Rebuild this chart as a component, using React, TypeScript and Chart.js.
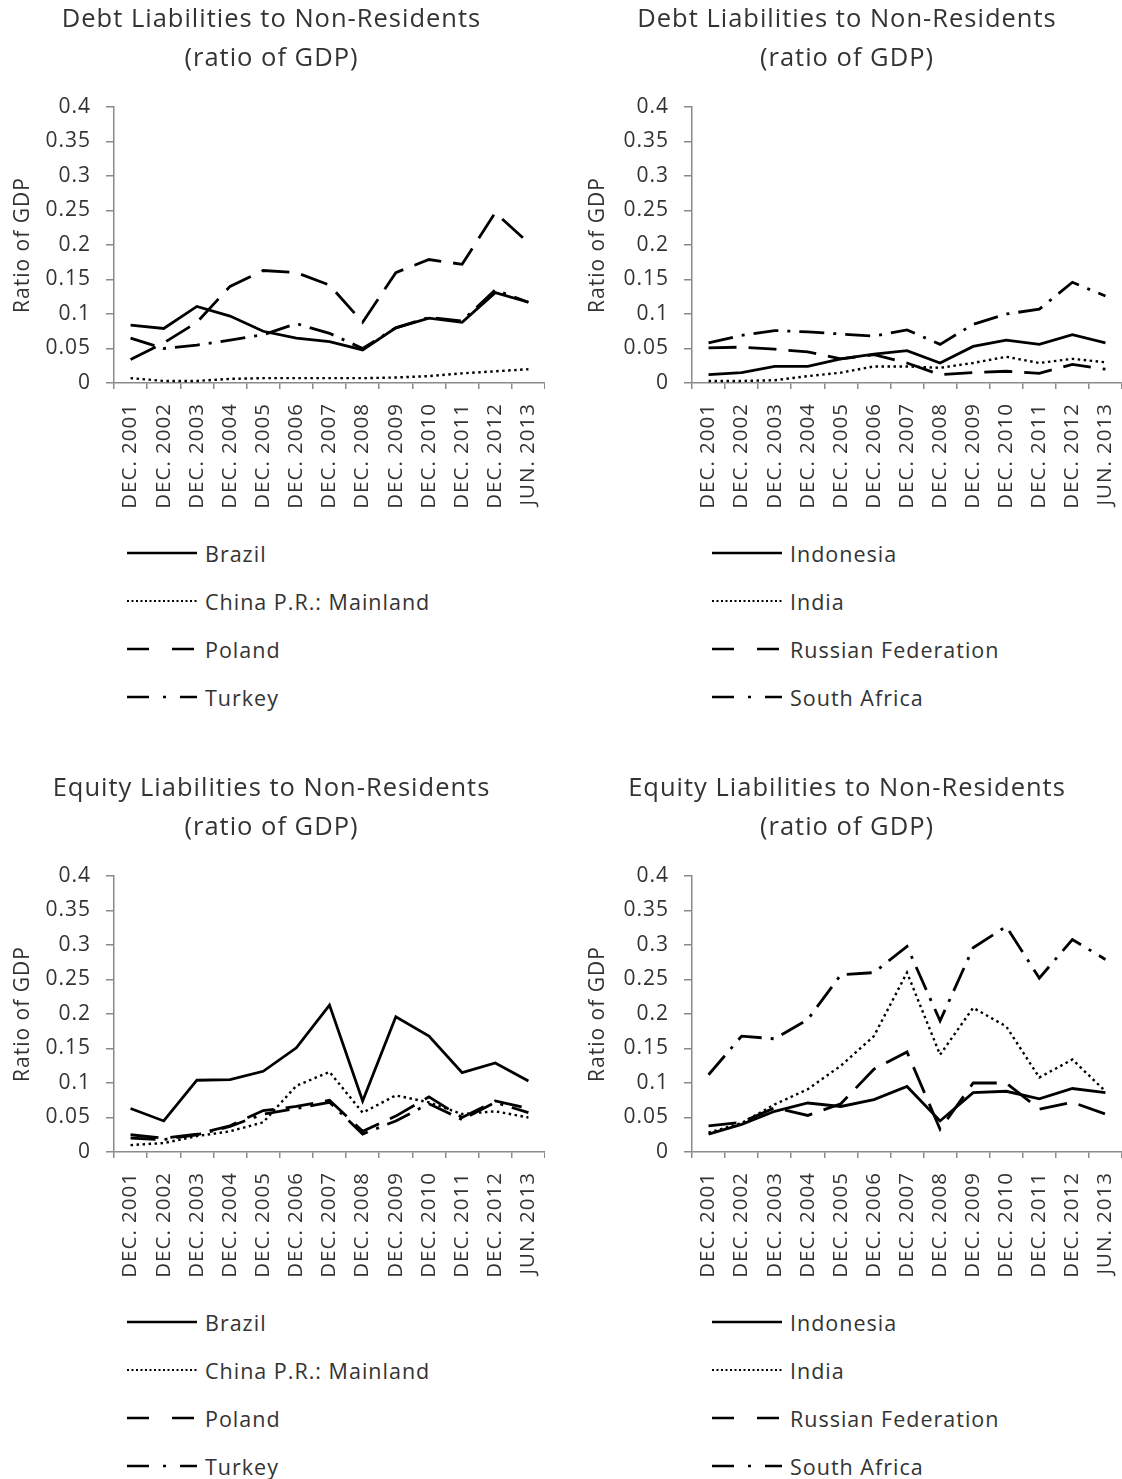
import React, { useEffect, useRef } from 'react';
import { Chart, registerables } from 'chart.js';

Chart.register(...registerables);

const categories = [
  'DEC. 2001', 'DEC. 2002', 'DEC. 2003', 'DEC. 2004', 'DEC. 2005', 'DEC. 2006', 'DEC. 2007',
  'DEC. 2008', 'DEC. 2009', 'DEC. 2010', 'DEC. 2011', 'DEC. 2012', 'JUN. 2013',
];

const leftCountries = ['Brazil', 'China P.R.: Mainland', 'Poland', 'Turkey'];
const rightCountries = ['Indonesia', 'India', 'Russian Federation', 'South Africa'];

const debtTitle = ['Debt Liabilities to Non-Residents', '(ratio of GDP)'];
const equityTitle = ['Equity Liabilities to Non-Residents', '(ratio of GDP)'];
const yAxisTitle = 'Ratio of GDP';

// Debt liabilities (ratio of GDP)
const debtBrazil = [0.084, 0.079, 0.111, 0.097, 0.075, 0.065, 0.060, 0.048, 0.080, 0.094, 0.088, 0.131, 0.117];
const debtChina = [0.007, 0.003, 0.003, 0.006, 0.007, 0.007, 0.007, 0.007, 0.008, 0.010, 0.014, 0.017, 0.020];
const debtPoland = [0.034, 0.058, 0.088, 0.140, 0.163, 0.160, 0.142, 0.088, 0.160, 0.179, 0.172, 0.247, 0.203];
const debtTurkey = [0.065, 0.050, 0.055, 0.062, 0.070, 0.086, 0.072, 0.050, 0.080, 0.095, 0.090, 0.135, 0.117];

const debtIndonesia = [0.012, 0.015, 0.024, 0.024, 0.035, 0.042, 0.047, 0.029, 0.053, 0.062, 0.056, 0.070, 0.058];
const debtIndia = [0.003, 0.003, 0.004, 0.010, 0.015, 0.024, 0.024, 0.022, 0.029, 0.038, 0.029, 0.035, 0.030];
const debtRussia = [0.051, 0.052, 0.049, 0.045, 0.035, 0.041, 0.029, 0.012, 0.015, 0.017, 0.014, 0.027, 0.020];
const debtSouthAfrica = [0.058, 0.069, 0.076, 0.074, 0.071, 0.068, 0.077, 0.056, 0.085, 0.100, 0.107, 0.146, 0.126];

// Equity liabilities (ratio of GDP)
const equityBrazil = [0.063, 0.045, 0.104, 0.105, 0.117, 0.151, 0.213, 0.074, 0.196, 0.168, 0.115, 0.129, 0.103];
const equityChina = [0.010, 0.013, 0.023, 0.030, 0.043, 0.096, 0.116, 0.057, 0.082, 0.072, 0.055, 0.059, 0.050];
const equityPoland = [0.025, 0.020, 0.026, 0.038, 0.060, 0.066, 0.075, 0.030, 0.052, 0.080, 0.050, 0.074, 0.063];
const equityTurkey = [0.020, 0.018, 0.025, 0.037, 0.055, 0.063, 0.072, 0.026, 0.045, 0.070, 0.047, 0.072, 0.057];

const equityIndonesia = [0.026, 0.040, 0.059, 0.071, 0.066, 0.076, 0.095, 0.045, 0.086, 0.088, 0.077, 0.092, 0.086];
const equityIndia = [0.028, 0.042, 0.069, 0.091, 0.125, 0.168, 0.260, 0.141, 0.209, 0.182, 0.108, 0.134, 0.088];
const equityRussia = [0.038, 0.043, 0.064, 0.053, 0.070, 0.120, 0.145, 0.033, 0.100, 0.100, 0.062, 0.072, 0.055];
const equitySouthAfrica = [0.112, 0.168, 0.164, 0.192, 0.257, 0.260, 0.298, 0.190, 0.296, 0.327, 0.252, 0.308, 0.279];

const FONT = '"Open Sans", Lato, sans-serif';
const TEXT = '#333333';
const AXIS = '#8a8a8a';

const lineDashes: number[][] = [[], [2.5, 3.5], [28, 12], [25, 9, 3, 9]];
const legendDashes: string[] = ['', '2 2.5', '22 23', '22 14 3 14'];
const legendWidths: number[] = [2.6, 2, 2.6, 2.6];

const letterSpacingPlugin = {
  id: 'letterSpacing',
  beforeDraw(chart: any) {
    try {
      (chart.ctx as any).letterSpacing = '1px';
    } catch (e) {
      /* ignore */
    }
  },
};

type PanelProps = {
  top: number;
  canvasLeft: number;
  canvasWidth: number;
  yWidth: number;
  yTitlePad: number;
  title: string[];
  names: string[];
  series: number[][];
  legendLeft: number;
};

function Panel({ top, canvasLeft, canvasWidth, yWidth, yTitlePad, title, names, series, legendLeft }: PanelProps) {
  const ref = useRef<HTMLCanvasElement | null>(null);

  useEffect(() => {
    if (!ref.current) return;
    const chart = new Chart(ref.current, {
      type: 'line',
      data: {
        labels: categories,
        datasets: names.map((n, i) => ({
          label: n,
          data: series[i],
          borderColor: '#000000',
          backgroundColor: '#000000',
          borderWidth: i === 1 ? 2.4 : 2.8,
          borderDash: lineDashes[i],
          borderCapStyle: 'butt' as const,
          pointRadius: 0,
          fill: false,
          tension: 0,
        })),
      },
      plugins: [letterSpacingPlugin],
      options: {
        responsive: false,
        animation: false,
        layout: { padding: 0 },
        plugins: {
          legend: { display: false },
          tooltip: { enabled: false },
          title: {
            display: true,
            text: title,
            color: TEXT,
            font: { family: FONT, size: 25.5, weight: 'normal', lineHeight: 39 / 25.5 },
            padding: { top: 0, bottom: 29 },
          },
        },
        scales: {
          x: {
            type: 'category',
            offset: true,
            grid: {
              offset: true,
              drawOnChartArea: false,
              drawTicks: true,
              tickLength: 6,
              color: AXIS,
              lineWidth: 1.5,
            },
            border: { display: true, color: AXIS, width: 1.5 },
            ticks: {
              autoSkip: false,
              minRotation: 90,
              maxRotation: 90,
              padding: 14,
              color: TEXT,
              font: { family: FONT, size: 20.5 },
            },
            afterFit: (s: any) => {
              s.height = 137;
              s.paddingLeft = 0;
              s.paddingRight = 0;
            },
          },
          y: {
            min: 0,
            max: 0.4,
            grid: {
              drawOnChartArea: false,
              drawTicks: true,
              tickLength: 8,
              color: AXIS,
              lineWidth: 1.5,
            },
            border: { display: true, color: AXIS, width: 1.5 },
            ticks: {
              stepSize: 0.05,
              padding: 15,
              color: TEXT,
              font: { family: FONT, size: 21 },
              callback: (v: any) => String(Number(Number(v).toFixed(2))),
            },
            title: {
              display: true,
              text: yAxisTitle,
              color: TEXT,
              font: { family: FONT, size: 21 },
              padding: { top: yTitlePad, bottom: 0 },
            },
            afterFit: (s: any) => {
              s.width = yWidth;
            },
          },
        },
      },
    });
    return () => chart.destroy();
  }, []);

  return (
    <>
      <canvas
        ref={ref}
        width={canvasWidth}
        height={520}
        style={{ position: 'absolute', left: canvasLeft, top, width: canvasWidth, height: 520, display: 'block' }}
      />
      {names.map((n, i) => (
        <div
          key={n}
          style={{
            position: 'absolute',
            left: legendLeft,
            top: top + 529 + 48 * i,
            height: 48,
            display: 'flex',
            alignItems: 'center',
            fontFamily: FONT,
            fontSize: 21.5,
            letterSpacing: '1px',
            color: TEXT,
            whiteSpace: 'nowrap',
          }}
        >
          <svg width={70} height={12} style={{ display: 'block' }}>
            <line
              x1={0}
              y1={6}
              x2={70}
              y2={6}
              stroke="#000"
              strokeWidth={legendWidths[i]}
              strokeDasharray={legendDashes[i] || undefined}
            />
          </svg>
          <span style={{ marginLeft: 8 }}>{n}</span>
        </div>
      ))}
    </>
  );
}

export default function App() {
  return (
    <div style={{ position: 'absolute', left: 0, top: 0, width: 1122, height: 1479, background: '#fff', overflow: 'hidden' }}>
      <Panel
        top={0}
        canvasLeft={-2}
        canvasWidth={547}
        yWidth={116}
        yTitlePad={12}
        title={debtTitle}
        names={leftCountries}
        series={[debtBrazil, debtChina, debtPoland, debtTurkey]}
        legendLeft={127}
      />
      <Panel
        top={0}
        canvasLeft={572}
        canvasWidth={550}
        yWidth={120}
        yTitlePad={13}
        title={debtTitle}
        names={rightCountries}
        series={[debtIndonesia, debtIndia, debtRussia, debtSouthAfrica]}
        legendLeft={712}
      />
      <Panel
        top={769}
        canvasLeft={-2}
        canvasWidth={547}
        yWidth={116}
        yTitlePad={12}
        title={equityTitle}
        names={leftCountries}
        series={[equityBrazil, equityChina, equityPoland, equityTurkey]}
        legendLeft={127}
      />
      <Panel
        top={769}
        canvasLeft={572}
        canvasWidth={550}
        yWidth={120}
        yTitlePad={13}
        title={equityTitle}
        names={rightCountries}
        series={[equityIndonesia, equityIndia, equityRussia, equitySouthAfrica]}
        legendLeft={712}
      />
    </div>
  );
}
